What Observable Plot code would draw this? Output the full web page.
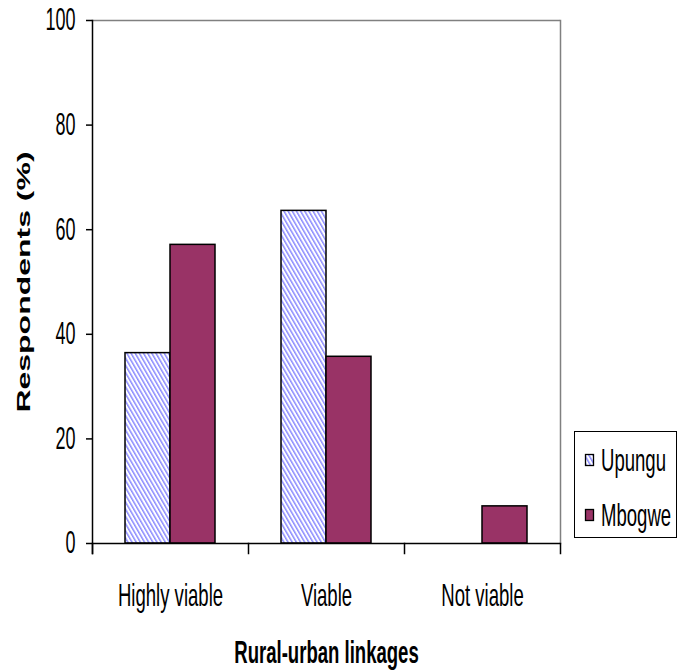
<!DOCTYPE html>
<html><head><meta charset="utf-8">
<script src="https://cdn.jsdelivr.net/npm/d3@7"></script>
<script src="https://cdn.jsdelivr.net/npm/@observablehq/plot@0.6"></script>
<style>
body{margin:0;background:#fff;}
#wrap{position:relative;width:681px;height:671px;}
#legend{position:absolute;left:574px;top:431px;}
</style></head><body><div id="wrap"></div>
<script>
const categories = ["Highly viable", "Viable", "Not viable"];
const seriesNames = ["Upungu", "Mbogwe"];
const upungu = [36.4, 63.6, 0];
const mbogwe = [57.1, 35.7, 7.1];
const yTicks = [0, 20, 40, 60, 80, 100];
const xTitle = "Rural-urban linkages";
const yTitle = "Respondents (%)";
const mbogweColor = "#993366";
const hatchColor = "#8a8aff";

const data = categories.flatMap((c, i) => [
  {category: c, series: seriesNames[0], value: upungu[i]},
  {category: c, series: seriesNames[1], value: mbogwe[i]}
]);

const SX = 0.58;
const FONT = "'Liberation Sans', Arial, sans-serif";

const chart = Plot.plot({
  width: 681, height: 671,
  marginLeft: 91, marginRight: 121, marginTop: 20, marginBottom: 128,
  style: {fontFamily: FONT, fontSize: "31px", background: "white", color: "black", overflow: "visible"},
  fx: {domain: categories, padding: 0},
  x: {domain: seriesNames, paddingInner: 0, paddingOuter: 0.7, axis: null},
  y: {domain: [0, 100]},
  marks: [
    Plot.ruleY([100], {stroke: "#808080", strokeWidth: 1.5}),
    Plot.frame({anchor: "right", facetAnchor: "right", stroke: "#808080", strokeWidth: 1.5}),
    Plot.barY(data.filter(d => d.series === seriesNames[0] && d.value > 0), {fx: "category", x: "series", y: "value", fill: "url(#hatch)", stroke: "black", strokeWidth: 1.5}),
    Plot.barY(data.filter(d => d.series === seriesNames[1] && d.value > 0), {fx: "category", x: "series", y: "value", fill: mbogweColor, stroke: "black", strokeWidth: 1.5}),
    Plot.ruleY([0], {stroke: "black", strokeWidth: 1.5}),
    Plot.frame({anchor: "left", facetAnchor: "left", stroke: "black", strokeWidth: 1.5, insetBottom: -10}),
    Plot.frame({anchor: "left", stroke: "black", strokeWidth: 1.5, insetTop: 523, insetBottom: -10}),
    Plot.frame({anchor: "right", facetAnchor: "right", stroke: "black", strokeWidth: 1.5, insetTop: 523, insetBottom: -10}),
    Plot.axisY(yTicks, {tickSize: 6, tickPadding: 11, strokeWidth: 1.5, fontSize: 31, label: yTitle, labelAnchor: "center", labelArrow: "none", labelOffset: 76}),
    Plot.axisFx({anchor: "bottom", tickSize: 0, tickPadding: 40, fontSize: 32, label: xTitle, labelAnchor: "center", labelArrow: "none", labelOffset: 119})
  ]
});

// hatch pattern
const defs = d3.select(chart).insert("defs", ":first-child");
const pat = defs.append("pattern").attr("id", "hatch").attr("patternUnits", "userSpaceOnUse")
  .attr("width", 3.6).attr("height", 10).attr("patternTransform", "rotate(-30)");
pat.append("rect").attr("width", 3.6).attr("height", 10).attr("fill", "white");
pat.append("rect").attr("x", 0).attr("width", 1.5).attr("height", 10).attr("fill", hatchColor);

// condensed look of the original text
chart.querySelectorAll("text").forEach(t => {
  const txt = t.textContent;
  if (txt === xTitle || txt === yTitle) {
    t.setAttribute("font-weight", "bold");
    t.setAttribute("font-size", "32");
  }
  const tr = t.getAttribute("transform") || "";
  const m = tr.match(/^translate\([^)]*\)/);
  if (m) t.setAttribute("transform", m[0] + ` scale(${SX},1)` + tr.slice(m[0].length));
});

document.getElementById("wrap").appendChild(chart);

// legend
const leg = d3.select("#wrap").append("div").attr("id", "legend").append("svg")
  .attr("width", 104).attr("height", 108);
leg.append("rect").attr("x", 0.5).attr("y", 0.5).attr("width", 102).attr("height", 106)
  .attr("fill", "white").attr("stroke", "black");
const lpat = leg.append("defs").append("pattern").attr("id", "hatch2").attr("patternUnits", "userSpaceOnUse")
  .attr("width", 3.6).attr("height", 10).attr("patternTransform", "rotate(-30)");
lpat.append("rect").attr("width", 3.6).attr("height", 10).attr("fill", "white");
lpat.append("rect").attr("width", 1.5).attr("height", 10).attr("fill", hatchColor);
seriesNames.forEach((s, i) => {
  const cy = 29 + i * 55;
  leg.append("rect").attr("x", 11.5).attr("y", cy - 5.5).attr("width", 8).attr("height", 11)
    .attr("fill", i === 0 ? "url(#hatch2)" : mbogweColor).attr("stroke", "black").attr("stroke-width", 1.3);
  leg.append("text").attr("transform", `translate(27,${cy}) scale(${SX},1)`)
    .attr("dy", "0.35em").attr("font-family", FONT).attr("font-size", 32).text(s);
});
</script></body></html>
